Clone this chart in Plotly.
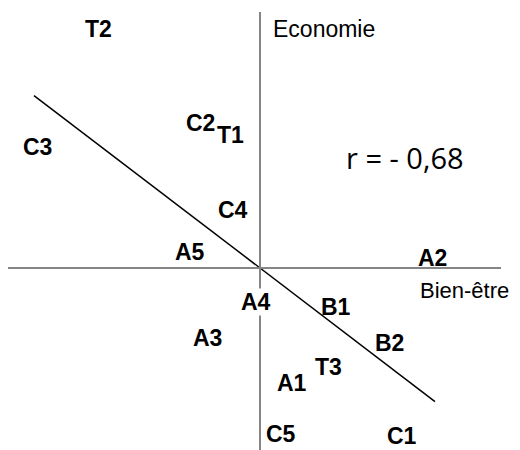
import plotly.graph_objects as go

# positions des modalites sur le plan (Bien-etre x Economie)
labels = ['T2', 'C2', 'T1', 'C3', 'C4', 'A5', 'A4', 'A3', 'A2',
          'B1', 'B2', 'T3', 'A1', 'C5', 'C1']
bien_etre = [-0.81, -0.30, -0.15, -1.115, -0.135, -0.35, -0.02, -0.265, 0.86,
             0.38, 0.645, 0.34, 0.16, 0.105, 0.71]
economie = [1.195, 0.725, 0.665, 0.605, 0.29, 0.08, -0.17, -0.35, 0.05,
            -0.195, -0.375, -0.495, -0.575, -0.83, -0.84]

# droite de regression
r_value = '- 0,68'
reg_slope = -0.763
reg_x = [-1.13, 0.875]

fig = go.Figure()

# axes
fig.add_shape(type='line', x0=-1.26, x1=1.205, y0=0, y1=0,
              line=dict(color='#858585', width=2))
fig.add_shape(type='line', x0=0, x1=0, y0=-0.95, y1=1.28,
              line=dict(color='#858585', width=2))

fig.add_trace(go.Scatter(
    x=reg_x,
    y=[reg_slope * v for v in reg_x],
    mode='lines',
    line=dict(color='black', width=1.5),
    hoverinfo='skip',
    showlegend=False,
))

for lab, x, y in zip(labels, bien_etre, economie):
    fig.add_annotation(
        x=x, y=y, text=lab, showarrow=False,
        font=dict(family='Liberation Sans, Arial', size=23, color='black', weight='bold'),
        bgcolor='white' if lab == 'A4' else 'rgba(0,0,0,0)',
        borderpad=0,
    )

fig.add_annotation(x=0.055, y=1.195, text='Economie', showarrow=False, xanchor='left',
                   font=dict(family='Liberation Sans, Arial', size=23, color='black'))
fig.add_annotation(x=0.79, y=-0.11, text='Bien-être', showarrow=False, xanchor='left',
                   font=dict(family='Liberation Sans, Arial', size=22, color='black'))
fig.add_annotation(x=0.725, y=0.555, text=f'r = {r_value}', showarrow=False,
                   font=dict(family='Open Sans', size=29, color='black'))

fig.update_layout(
    width=512,
    height=442,
    margin=dict(l=0, r=0, t=0, b=0),
    paper_bgcolor='white',
    plot_bgcolor='white',
    xaxis=dict(range=[-1.26, 1.30], visible=False, fixedrange=True),
    yaxis=dict(range=[-0.91, 1.30], visible=False, fixedrange=True),
)

fig.write_html('out.html')
